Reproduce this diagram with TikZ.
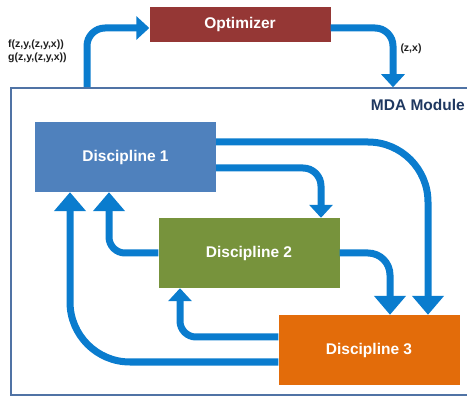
\documentclass[tikz,border=0pt]{standalone}
\usepackage{fontspec}
\setmainfont{Liberation Sans}
\usetikzlibrary{arrows.meta}
\definecolor{flowblue}{RGB}{10,124,206}
\definecolor{optred}{RGB}{149,55,53}
\definecolor{dblue}{RGB}{79,129,189}
\definecolor{dgreen}{RGB}{119,147,60}
\definecolor{dorange}{RGB}{227,108,10}
\definecolor{mdaline}{RGB}{80,115,165}
\definecolor{mdatext}{RGB}{31,56,96}
\definecolor{labtext}{RGB}{30,30,30}
\tikzset{
  blockbox/.style={draw=none, minimum width=181pt, minimum height=70pt, text=white,
    font=\fontsize{15.5}{18}\selectfont\bfseries, inner sep=0pt},
  flow/.style={draw=flowblue, line width=7pt},
  bighead/.style={-{Triangle[width=31pt,length=19pt]}},
  smallhead/.style={-{Triangle[width=23pt,length=13pt]}},
  smalllabel/.style={text=labtext, font=\fontsize{10.5}{13}\selectfont\bfseries, inner sep=0pt}
}
\begin{document}
\begin{tikzpicture}[x=1pt,y=-1pt]
\useasboundingbox (0,0) rectangle (467,396);
% MDA module frame
\node[draw=mdaline, line width=1.5pt, minimum width=469pt, minimum height=307pt, inner sep=0pt] (mda) at (245.5,241.5) {};
\node[anchor=base east, text=mdatext, font=\fontsize{15.5}{18}\selectfont\bfseries, inner sep=0pt] (mdalab) at (465,111) {MDA Module};
% blocks
\node[blockbox, fill=optred, minimum height=35pt] (opt) at (240,24.5) {Optimizer};
\node[blockbox, fill=dblue] (d1) at (125.5,157) {Discipline 1};
\node[blockbox, fill=dgreen] (d2) at (249,253) {Discipline 2};
\node[blockbox, fill=dorange] (d3) at (369,350) {Discipline 3};
% labels
\node[smalllabel, align=left, anchor=west] (fg) at (8,51) {f(z,y,(z,y,x))\\g(z,y,(z,y,x))};
\node[smalllabel] (zx) at (411,49) {(z,x)};
% optimizer loop
\draw[flow, smallhead, rounded corners=18pt] (mda.north -| 87,0) -- (87,28) -- (opt.west |- 0,28);
\draw[flow, smallhead, rounded corners=18pt] (opt.east |- 0,28) -- (393,28) -- (mda.north -| 393,0);
% discipline couplings
\draw[flow, bighead, rounded corners=60pt] (d1.east |- 0,142) -- (428,142) -- (d3.north -| 428,0);
\draw[flow, smallhead, rounded corners=18pt] (d1.east |- 0,168) -- (321,168) -- (d2.north -| 321,0);
\draw[flow, bighead, rounded corners=16pt] (d2.west |- 0,253) -- (109,253) -- (d1.south -| 109,0);
\draw[flow, bighead, rounded corners=60pt] (d3.west |- 0,362) -- (70,362) -- (d1.south -| 70,0);
\draw[flow, bighead, rounded corners=22pt] (d2.east |- 0,253) -- (390,253) -- (d3.north -| 390,0);
\draw[flow, smallhead, rounded corners=16pt] (d3.west |- 0,337) -- (180,337) -- (d2.south -| 180,0);
\end{tikzpicture}
\end{document}
